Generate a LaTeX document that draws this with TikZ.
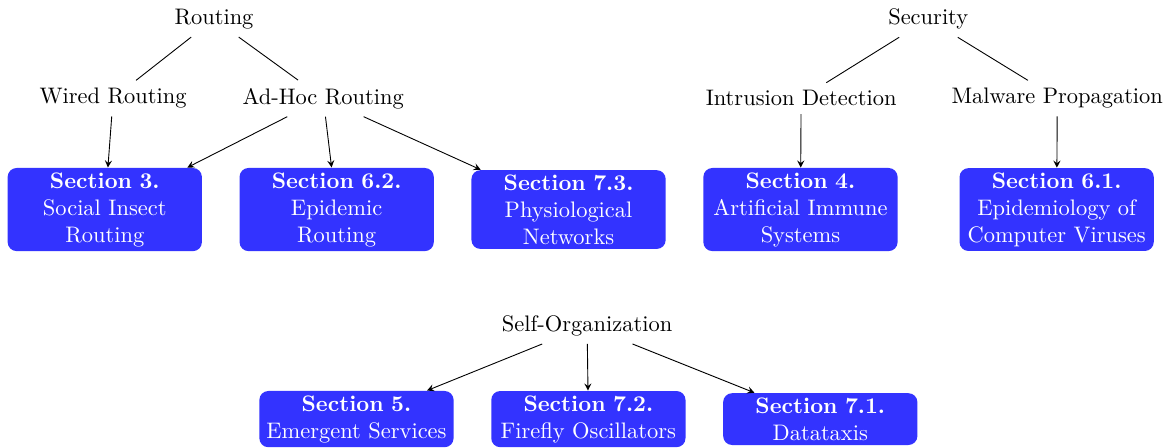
\documentclass[tikz,border=0pt]{standalone}
\usetikzlibrary{arrows}
\begin{document}
\begin{tikzpicture}[>=stealth,
  topic/.style={inner sep=0.333em},
  section/.style={rectangle, rounded corners=4pt, fill=secfill, text=sectext,
    text width=2.9cm, align=center, inner sep=2pt}]
%Define all colors here.

\definecolor{secfill}{RGB}{51,51,255}
\definecolor{sectext}{RGB}{255,255,255}
\useasboundingbox (0,0) rectangle (18.33,-7.0);

%Routing tree
\node(R) at (3.35,-0.30) [topic] {Routing};
\node(WR) at (1.77,-1.54) [topic] {Wired Routing};
\node(AH) at (5.06,-1.54) [topic] {Ad-Hoc Routing};
\node(S3) at (1.64,-3.28) [section] {\textbf{Section 3.}\\Social Insect\\Routing};
\node(S62) at (5.27,-3.28) [section] {\textbf{Section 6.2.}\\Epidemic\\Routing};
\node(S73) at (8.90,-3.28) [section] {\textbf{Section 7.3.}\\Physiological\\Networks};

%Security tree
\node(SE) at (14.53,-0.30) [topic] {Security};
\node(ID) at (12.54,-1.54) [topic] {Intrusion Detection};
\node(MP) at (16.55,-1.54) [topic] {Malware Propagation};
\node(S4) at (12.53,-3.28) [section] {\textbf{Section 4.}\\Artificial Immune\\Systems};
\node(S61) at (16.54,-3.28) [section] {\textbf{Section 6.1.}\\Epidemiology of\\Computer Viruses};

%Self-Organization tree
\node(SO) at (9.19,-5.10) [topic] {Self-Organization};
\node(S5) at (5.58,-6.56) [section] {\textbf{Section 5.}\\Emergent Services};
\node(S72) at (9.21,-6.56) [section] {\textbf{Section 7.2.}\\Firefly Oscillators};
\node(S71) at (12.84,-6.56) [section] {\textbf{Section 7.1.}\\Datataxis};

\draw (R) edge (WR);
\draw (R) edge (AH);
\draw (SE) edge (ID);
\draw (SE) edge (MP);
\draw[->] (WR) edge (S3);
\draw[->] (AH) edge (S3);
\draw[->] (AH) edge (S62);
\draw[->] (AH) edge (S73);
\draw[->] (ID) edge (S4);
\draw[->] (MP) edge (S61);
\draw[->] (SO) edge (S5);
\draw[->] (SO) edge (S72);
\draw[->] (SO) edge (S71);
\end{tikzpicture}
\end{document}
